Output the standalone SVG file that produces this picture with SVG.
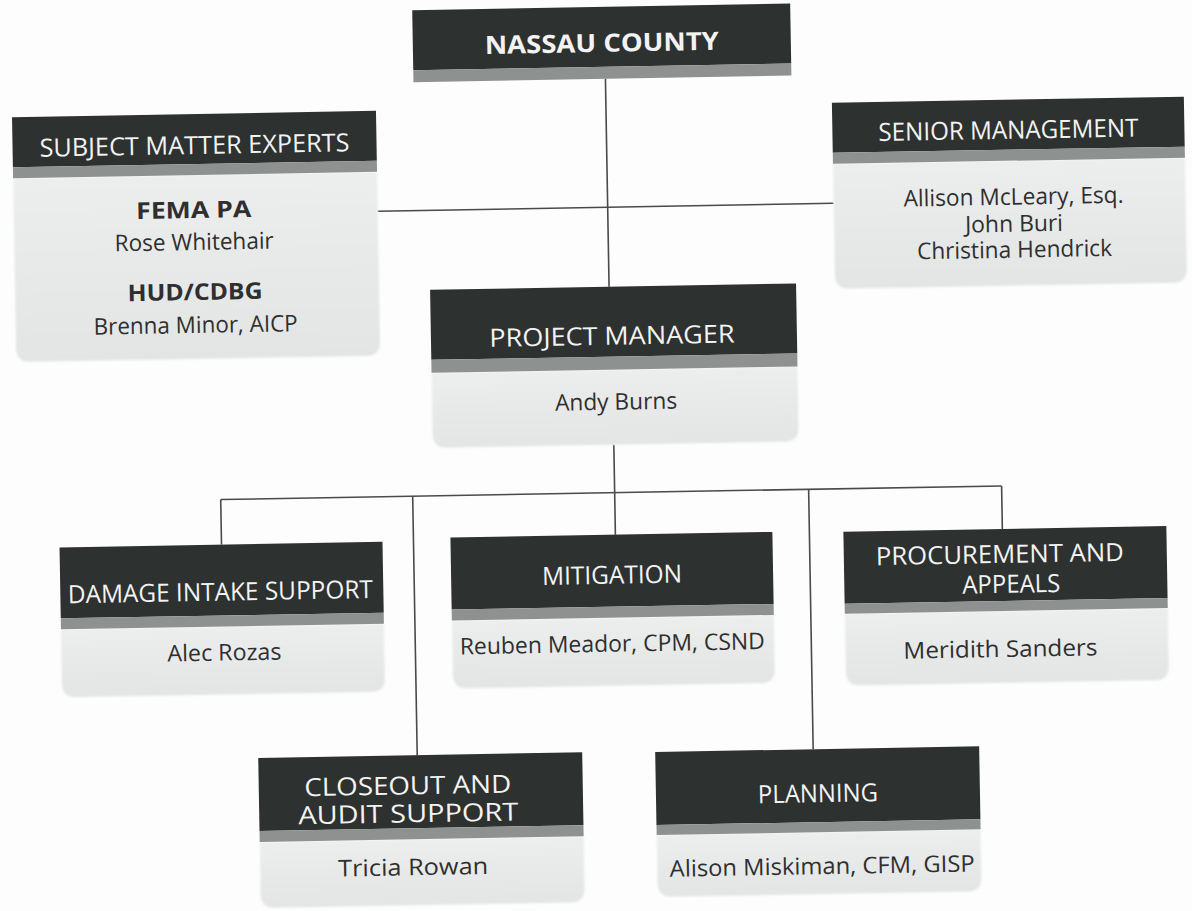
<svg xmlns="http://www.w3.org/2000/svg" width="1192" height="911" viewBox="0 0 1192 911">
  <defs>
    <filter id="soft" x="-5%" y="-5%" width="110%" height="110%">
      <feGaussianBlur stdDeviation="1.3"/>
    </filter>
    <linearGradient id="bodyFill" x1="0" y1="0" x2="0" y2="1">
      <stop offset="0" stop-color="#eceeee"/>
      <stop offset="1" stop-color="#e3e5e5"/>
    </linearGradient>
  </defs>
  <style>
    .hd { fill: #2d3130; }
    .band { fill: #8e9190; }
    .body { fill: url(#bodyFill); filter: url(#soft); }
    .ht { font-family: "Open Sans", "Liberation Sans", sans-serif; font-size: 25px; fill: #f3f3f3; text-anchor: middle; }
    .bt { font-family: "Open Sans", "Liberation Sans", sans-serif; font-size: 23px; fill: #2f2f2f; text-anchor: middle; }
    .b { font-weight: bold; }
    .wire { stroke: #4a4a4a; stroke-width: 1.6; fill: none; }
  </style>
  <rect width="1192" height="911" fill="#fdfdfd"/>

  <!-- the whole chart sits slightly tilted on the page -->
  <g transform="rotate(-1 596 455)">

    <g id="connectors">
      <line class="wire" x1="612" y1="79" x2="612" y2="287"/>
      <line class="wire" x1="382" y1="207.5" x2="838" y2="207.5"/>
      <line class="wire" x1="614" y1="445" x2="614" y2="535"/>
      <line class="wire" x1="220" y1="493" x2="1001" y2="493"/>
      <line class="wire" x1="220" y1="493" x2="220" y2="538"/>
      <line class="wire" x1="412" y1="493" x2="412" y2="752"/>
      <line class="wire" x1="808" y1="493" x2="808" y2="753"/>
      <line class="wire" x1="1001" y1="493" x2="1001" y2="536"/>
    </g>

    <g id="nassau-county">
      <rect class="hd" x="420" y="7" width="378" height="60"/>
      <rect class="band" x="420" y="67" width="378" height="12"/>
      <text class="ht b" x="609" y="52" font-size="27" textLength="234" lengthAdjust="spacingAndGlyphs">NASSAU COUNTY</text>
    </g>

    <g id="subject-matter-experts">
      <path class="body" d="M18 168 h364 v170 q0 14 -14 14 h-336 q-14 0 -14 -14 z"/>
      <rect class="hd" x="18" y="107" width="364" height="50"/>
      <rect class="band" x="18" y="157" width="364" height="11"/>
      <text class="ht" x="200" y="147" textLength="310" lengthAdjust="spacingAndGlyphs">SUBJECT MATTER EXPERTS</text>
      <text class="bt b" x="198" y="211" textLength="115" lengthAdjust="spacingAndGlyphs">FEMA PA</text>
      <text class="bt" x="198" y="243" textLength="159" lengthAdjust="spacingAndGlyphs">Rose Whitehair</text>
      <text class="bt b" x="198" y="293" textLength="135" lengthAdjust="spacingAndGlyphs">HUD/CDBG</text>
      <text class="bt" x="198" y="326" textLength="204" lengthAdjust="spacingAndGlyphs">Brenna Minor, AICP</text>
    </g>

    <g id="senior-management">
      <path class="body" d="M838 168 h352 v111 q0 14 -14 14 h-324 q-14 0 -14 -14 z"/>
      <rect class="hd" x="838" y="107" width="352" height="50"/>
      <rect class="band" x="838" y="157" width="352" height="11"/>
      <text class="ht" x="1014" y="146" textLength="260" lengthAdjust="spacingAndGlyphs">SENIOR MANAGEMENT</text>
      <text class="bt" x="1018" y="212" textLength="220" lengthAdjust="spacingAndGlyphs">Allison McLeary, Esq.</text>
      <text class="bt" x="1018" y="239" textLength="98" lengthAdjust="spacingAndGlyphs">John Buri</text>
      <text class="bt" x="1018" y="265" textLength="195" lengthAdjust="spacingAndGlyphs">Christina Hendrick</text>
    </g>

    <g id="project-manager">
      <path class="body" d="M433 370 h366 v61 q0 14 -14 14 h-338 q-14 0 -14 -14 z"/>
      <rect class="hd" x="433" y="287" width="366" height="70"/>
      <rect class="band" x="433" y="357" width="366" height="13"/>
      <text class="ht" x="614" y="345" textLength="245" lengthAdjust="spacingAndGlyphs">PROJECT MANAGER</text>
      <text class="bt" x="617" y="410" textLength="122" lengthAdjust="spacingAndGlyphs">Andy Burns</text>
    </g>

    <g id="damage-intake-support">
      <path class="body" d="M58 620 h323 v54 q0 14 -14 14 h-295 q-14 0 -14 -14 z"/>
      <rect class="hd" x="58" y="538" width="323" height="71"/>
      <rect class="band" x="58" y="609" width="323" height="11"/>
      <text class="ht" x="218" y="594" textLength="305" lengthAdjust="spacingAndGlyphs">DAMAGE INTAKE SUPPORT</text>
      <text class="bt" x="221" y="654" textLength="114" lengthAdjust="spacingAndGlyphs">Alec Rozas</text>
    </g>

    <g id="mitigation">
      <path class="body" d="M449 618 h322 v54 q0 14 -14 14 h-294 q-14 0 -14 -14 z"/>
      <rect class="hd" x="449" y="535" width="322" height="72"/>
      <rect class="band" x="449" y="607" width="322" height="11"/>
      <text class="ht" x="610" y="584" textLength="140" lengthAdjust="spacingAndGlyphs">MITIGATION</text>
      <text class="bt" x="609" y="652" textLength="305" lengthAdjust="spacingAndGlyphs">Reuben Meador, CPM, CSND</text>
    </g>

    <g id="procurement-and-appeals">
      <path class="body" d="M842 618 h323 v58 q0 14 -14 14 h-295 q-14 0 -14 -14 z"/>
      <rect class="hd" x="842" y="536" width="323" height="72"/>
      <rect class="band" x="842" y="608" width="323" height="10"/>
      <text class="ht" x="998" y="570" textLength="248" lengthAdjust="spacingAndGlyphs">PROCUREMENT AND</text>
      <text class="ht" x="1009" y="600" textLength="98" lengthAdjust="spacingAndGlyphs">APPEALS</text>
      <text class="bt" x="997" y="664" textLength="194" lengthAdjust="spacingAndGlyphs">Meridith Sanders</text>
    </g>

    <g id="closeout-and-audit-support">
      <path class="body" d="M253 836 h324 v52 q0 14 -14 14 h-296 q-14 0 -14 -14 z"/>
      <rect class="hd" x="253" y="752" width="324" height="73"/>
      <rect class="band" x="253" y="825" width="324" height="11"/>
      <text class="ht" x="402" y="791" textLength="207" lengthAdjust="spacingAndGlyphs">CLOSEOUT AND</text>
      <text class="ht" x="402" y="819" textLength="220" lengthAdjust="spacingAndGlyphs">AUDIT SUPPORT</text>
      <text class="bt" x="406" y="872" textLength="150" lengthAdjust="spacingAndGlyphs">Tricia Rowan</text>
    </g>

    <g id="planning">
      <path class="body" d="M650 836 h324 v48 q0 14 -14 14 h-296 q-14 0 -14 -14 z"/>
      <rect class="hd" x="650" y="753" width="324" height="73"/>
      <rect class="band" x="650" y="826" width="324" height="10"/>
      <text class="ht" x="812" y="806" textLength="120" lengthAdjust="spacingAndGlyphs">PLANNING</text>
      <text class="bt" x="815" y="878" textLength="305" lengthAdjust="spacingAndGlyphs">Alison Miskiman, CFM, GISP</text>
    </g>

  </g>
</svg>
